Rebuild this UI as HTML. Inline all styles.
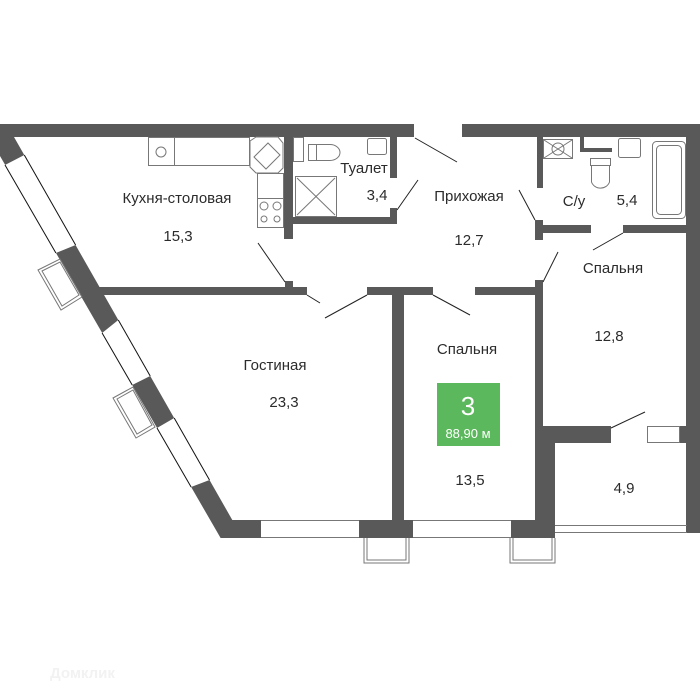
<!DOCTYPE html>
<html><head><meta charset="utf-8"><style>
html,body{margin:0;padding:0;background:#fff;}
svg{display:block;}
text{font-family:"Liberation Sans","DejaVu Sans",sans-serif;fill:#2b2b2b;}
</style></head><body>
<svg width="700" height="700" viewBox="0 0 700 700" xmlns="http://www.w3.org/2000/svg">
<g fill="#595959">
<polygon points="0,124 414,124 414,137 14,137 232.3,520 555,520 555,538 220.6,538 -11,137 0,137"/>
<rect x="462" y="124" width="238" height="13"/>
<rect x="686" y="124" width="14" height="409"/>
<rect x="284" y="137" width="9" height="102"/>
<rect x="293" y="217" width="104" height="7"/>
<rect x="390" y="137" width="7" height="41"/>
<rect x="390" y="208" width="7" height="16"/>
<rect x="285" y="281" width="8" height="10"/>
<rect x="98" y="287" width="209" height="8"/>
<rect x="367" y="287" width="66" height="8"/>
<rect x="392" y="287" width="12" height="233"/>
<rect x="475" y="287" width="61" height="8"/>
<rect x="535" y="280" width="8" height="146"/>
<rect x="535" y="426" width="20" height="112"/>
<rect x="543" y="426" width="68" height="17"/>
<rect x="679" y="426" width="8" height="17"/>
<rect x="537" y="137" width="6" height="51"/>
<rect x="535" y="220" width="8" height="20"/>
<rect x="543" y="225" width="48" height="8"/>
<rect x="623" y="225" width="64" height="8"/>
<rect x="580" y="137" width="4" height="15"/>
<rect x="580" y="148" width="32" height="4"/>
</g>
<g fill="#fff" stroke="none">
<polygon points="5,165 24.3,155 75.6,245 55.9,253"/>
<polygon points="102.1,333 118.3,320 150.2,376 132.2,385"/>
<polygon points="157,428 174.2,418 209.5,480 191.1,487"/>
<rect x="261" y="520" width="98" height="18"/>
<rect x="413" y="520" width="98" height="18"/>
</g>
<g stroke="#111" stroke-width="1" fill="none">
<line x1="5" y1="165" x2="55.9" y2="253"/>
<line x1="24.3" y1="155" x2="75.6" y2="245"/>
<line x1="102.1" y1="333" x2="132.2" y2="385"/>
<line x1="118.3" y1="320" x2="150.2" y2="376"/>
<line x1="157" y1="428" x2="191.1" y2="487"/>
<line x1="174.2" y1="418" x2="209.5" y2="480"/>
</g>
<g stroke="#777" stroke-width="1" fill="none">
<line x1="261" y1="520.5" x2="359" y2="520.5"/><line x1="261" y1="537.5" x2="359" y2="537.5"/>
<line x1="413" y1="520.5" x2="511" y2="520.5"/><line x1="413" y1="537.5" x2="511" y2="537.5"/>
<line x1="555" y1="525.5" x2="687" y2="525.5"/><line x1="555" y1="532.5" x2="687" y2="532.5"/>
<polygon points="38,270 60,259 82,297 61,310"/>
<polygon points="42,271 60,262 79,295 62,306"/>
<polygon points="113,398 133,387 155,427 136,438"/>
<polygon points="117,399 133,390 152,425 137,434"/>
<polyline points="364,538 364,563 409,563 409,538"/>
<polyline points="367,538 367,560 406,560 406,538"/>
<polyline points="510,538 510,563 555,563 555,538"/>
<polyline points="513,538 513,560 552,560 552,538"/>
<rect x="647.5" y="426.5" width="32" height="16"/>
<rect x="148.5" y="137.5" width="101" height="28"/>
<line x1="174.5" y1="137" x2="174.5" y2="166"/>
<circle cx="161" cy="152" r="5"/>
<polygon points="250,141 256,137 278,137 283,143 283,168 278,173 256,173 250,167"/>
<polygon points="254,157 268,143 280,155 266,169"/>
<rect x="257.5" y="173.5" width="26" height="54"/>
<line x1="257" y1="198.5" x2="284" y2="198.5"/>
<circle cx="264" cy="206" r="4"/><circle cx="277" cy="206" r="4"/>
<circle cx="264" cy="219" r="3"/><circle cx="277" cy="219" r="3"/>
<rect x="293.5" y="137.5" width="10" height="24"/>
<rect x="308.5" y="144.5" width="8" height="16"/>
<path d="M316.5 144.5 H330 A10 8 0 0 1 330 160.5 H316.5 Z"/>
<rect x="367.5" y="138.5" width="19" height="16" rx="2"/>
<rect x="295.5" y="176.5" width="41" height="40"/>
<line x1="297" y1="178" x2="335" y2="215"/><line x1="335" y1="178" x2="297" y2="215"/>
<rect x="543.5" y="139.5" width="29" height="19"/>
<line x1="544" y1="140" x2="572" y2="158"/><line x1="572" y1="140" x2="544" y2="158"/>
<circle cx="558" cy="149" r="6"/>
<rect x="590.5" y="158.5" width="20" height="7"/>
<path d="M591.5 166 V182 A9.5 9 0 0 0 609.5 182 V166"/>
<rect x="618.5" y="138.5" width="22" height="19" rx="2"/>
<rect x="652.5" y="141.5" width="33" height="77" rx="4"/>
<rect x="656.5" y="145.5" width="25" height="69" rx="4"/>
</g>
<g stroke="#222" stroke-width="1">
<line x1="258" y1="243" x2="285" y2="282"/>
<line x1="307" y1="295" x2="320" y2="303"/>
<line x1="325" y1="318" x2="367" y2="295"/>
<line x1="433" y1="295" x2="470" y2="315"/>
<line x1="543" y1="282" x2="558" y2="252"/>
<line x1="415" y1="138" x2="457" y2="162"/>
<line x1="397" y1="210" x2="418" y2="180"/>
<line x1="519" y1="190" x2="535" y2="220"/>
<line x1="623" y1="233" x2="593" y2="250"/>
<line x1="611" y1="428" x2="645" y2="412"/>
</g>
<g font-size="15" text-anchor="middle">
<text x="177" y="203">Кухня-столовая</text>
<text x="178" y="241">15,3</text>
<text x="364" y="173">Туалет</text>
<text x="377" y="200">3,4</text>
<text x="469" y="201">Прихожая</text>
<text x="469" y="245">12,7</text>
<text x="574" y="206">С/у</text>
<text x="627" y="205">5,4</text>
<text x="613" y="273">Спальня</text>
<text x="609" y="341">12,8</text>
<text x="275" y="370">Гостиная</text>
<text x="284" y="407">23,3</text>
<text x="467" y="354">Спальня</text>
<text x="470" y="485">13,5</text>
<text x="624" y="493">4,9</text>
</g>
<rect x="437" y="383" width="63" height="63" fill="#5cb85c"/>
<text x="468" y="415" font-size="26" text-anchor="middle" style="fill:#fff">3</text>
<text x="468" y="438" font-size="13" text-anchor="middle" style="fill:#fff">88,90 м</text>
<text x="50" y="678" font-size="15" font-weight="bold" style="fill:#f2f2f2">Домклик</text>
</svg>
</body></html>
